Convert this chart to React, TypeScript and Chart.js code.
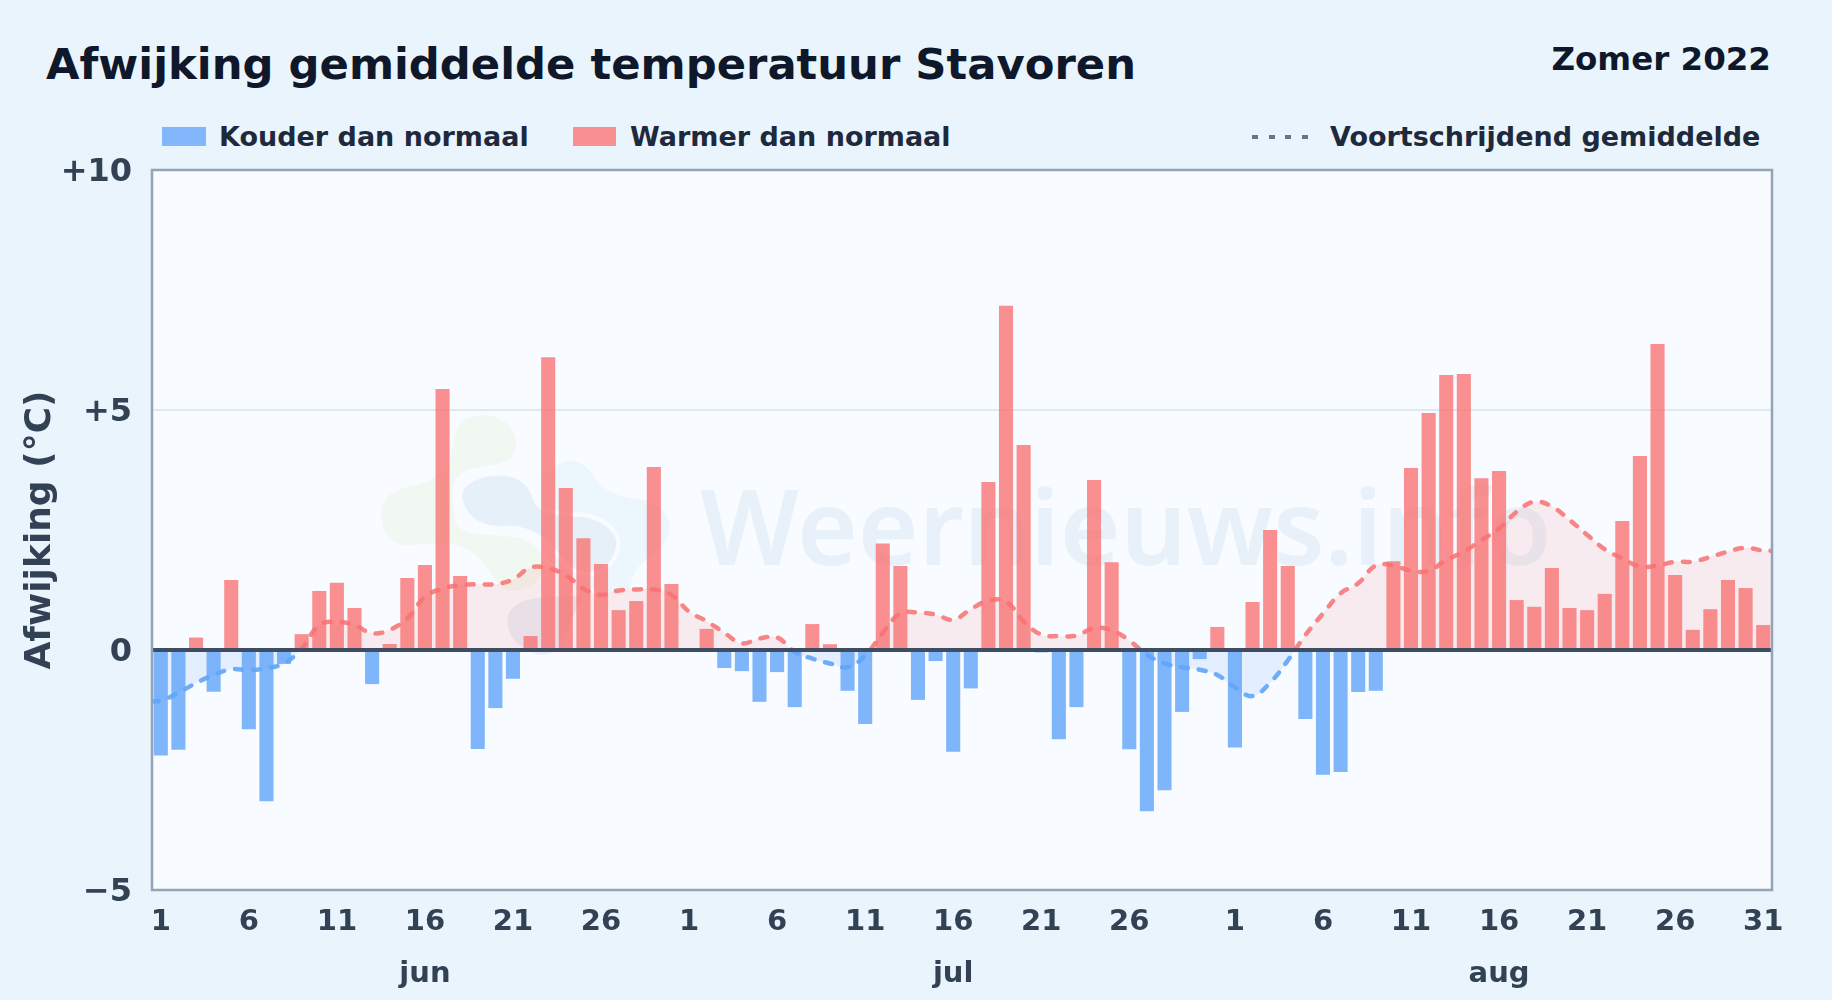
import React, { useEffect, useRef } from "react";
import { Chart, registerables } from "chart.js";

Chart.register(...registerables);

const months = ["jun", "jul", "aug"];
const monthLengths = [30, 31, 31];
const hiddenDayLabels = ["jul-31", "jun-31"];

const deviations = [
  -2.2, -2.08, 0.26, -0.87, 1.46, -1.65, -3.15, -0.29, 0.33, 1.23, 1.4, 0.875, -0.71, 0.125, 1.5,
  1.77, 5.44, 1.54, -2.06, -1.21, -0.6, 0.29, 6.1, 3.375, 2.33, 1.79, 0.83, 1.02, 3.81, 1.375,
  0, 0.44, -0.375, -0.44, -1.08, -0.46, -1.19, 0.54, 0.12, -0.85, -1.54, 2.22, 1.75, -1.04, -0.23,
  -2.12, -0.8, 3.5, 7.17, 4.27, -0.05, -1.86, -1.19, 3.54, 1.83, -2.07, -3.36, -2.92, -1.29, -0.19, 0.48,
  -2.03, 1.0, 2.5, 1.75, -1.44, -2.6, -2.54, -0.875, -0.85, 1.85, 3.79, 4.94, 5.73, 5.75, 3.58,
  3.73, 1.04, 0.9, 1.71, 0.875, 0.83, 1.17, 2.69, 4.04, 6.375, 1.56, 0.42, 0.85, 1.46, 1.29, 0.52,
];

const runningAverage = [
  -1.06, -0.89, -0.69, -0.52, -0.4, -0.42, -0.38, -0.28, 0.03, 0.52, 0.59, 0.52, 0.35, 0.42, 0.66,
  1.11, 1.28, 1.35, 1.37, 1.37, 1.47, 1.72, 1.7, 1.56, 1.28, 1.15, 1.24, 1.26, 1.26, 1.15,
  0.8, 0.6, 0.36, 0.14, 0.24, 0.26, -0.04, -0.18, -0.28, -0.36, -0.12, 0.36, 0.76, 0.78, 0.74,
  0.63, 0.85, 1.03, 1.01, 0.6, 0.32, 0.29, 0.3, 0.46, 0.41, 0.2, -0.1, -0.28, -0.36, -0.41, -0.52,
  -0.78, -0.96, -0.68, -0.22, 0.31, 0.76, 1.18, 1.39, 1.76, 1.76, 1.65, 1.65, 1.875, 2.05, 2.29,
  2.53, 2.88, 3.09, 2.99, 2.71, 2.4, 2.1, 1.91, 1.74, 1.76, 1.84, 1.84, 1.94, 2.05, 2.13, 2.07,
];
const runningAverageStart = -1.07;
const runningAverageEnd = 2.07;

const yTickValues = [-5, 0, 5, 10];
const yTickLabels = ["\u22125", "0", "+5", "+10"];

const legendCold = "Kouder dan normaal";
const legendWarm = "Warmer dan normaal";
const legendAvg = "Voortschrijdend gemiddelde";
const titleText = "Afwijking gemiddelde temperatuur Stavoren";
const subtitleText = "Zomer 2022";
const yAxisTitle = "Afwijking (\u00b0C)";
const watermarkText = "Weernieuws.info";

const FONT = '"DejaVu Sans", sans-serif';
const PAGE_BG = "#e9f4fd";
const PLOT_BG = "#f8fbff";

type Pt = [number, number];
const blobGreen: Pt[] = [[300,60],[380,40],[450,70],[475,130],[450,185],[370,200],[300,215],[275,260],[280,340],[300,400],[420,405],[520,420],[560,500],[520,560],[440,580],[400,530],[360,470],[290,430],[200,430],[120,440],[70,400],[60,320],[100,270],[200,250],[270,200],[280,120]];
const blobSky: Pt[] = [[530,230],[620,175],[680,195],[720,260],[790,295],[870,300],[920,340],[935,390],[900,450],[830,500],[815,540],[800,590],[690,570],[560,500],[560,350]];
const blobSteel: Pt[] = [[310,260],[380,225],[470,230],[510,270],[530,330],[600,350],[690,350],[750,385],[775,430],[750,490],[700,520],[640,510],[590,450],[540,400],[470,375],[390,380],[330,350],[305,300]];
const blobSlate: Pt[] = [[440,640],[480,605],[540,590],[620,590],[680,585],[640,640],[600,750],[540,770],[480,740],[445,700]];

function blobPath(ctx: CanvasRenderingContext2D, pts: Pt[]) {
  const map = (p: Pt): Pt => [360 + p[0] / 3, 400 + p[1] / 3];
  const mid = (a: Pt, b: Pt): Pt => [(a[0] + b[0]) / 2, (a[1] + b[1]) / 2];
  const m = pts.map(map);
  ctx.beginPath();
  const s = mid(m[m.length - 1], m[0]);
  ctx.moveTo(s[0], s[1]);
  m.forEach((p, i) => {
    const e = mid(p, m[(i + 1) % m.length]);
    ctx.quadraticCurveTo(p[0], p[1], e[0], e[1]);
  });
  ctx.closePath();
}

const framePlugin = {
  id: "frame",
  beforeDraw(chart: any) {
    const { ctx, chartArea: a } = chart;
    ctx.save();
    ctx.fillStyle = PLOT_BG;
    ctx.fillRect(a.left, a.top, a.right - a.left, a.bottom - a.top);
    ctx.fillStyle = "#f1f8f1";
    blobPath(ctx, blobGreen);
    ctx.fill();
    ctx.fillStyle = "#ebf6fd";
    blobPath(ctx, blobSky);
    ctx.fill();
    ctx.fillStyle = "#e6f0f9";
    ctx.strokeStyle = PLOT_BG;
    ctx.lineWidth = 9;
    blobPath(ctx, blobSteel);
    ctx.stroke();
    ctx.fill();
    ctx.fillStyle = "#e8eef7";
    blobPath(ctx, blobSlate);
    ctx.fill();
    ctx.fillStyle = "#e8f1f9";
    ctx.font = '600 104px "Noto Sans", sans-serif';
    ctx.textBaseline = "alphabetic";
    ctx.textAlign = "left";
    ctx.fillText(watermarkText, 700, 565);
    ctx.restore();
  },
  afterDatasetsDraw(chart: any) {
    const { ctx, chartArea: a, scales } = chart;
    const y0 = scales.y.getPixelForValue(0);
    ctx.save();
    ctx.strokeStyle = "#3f4c62";
    ctx.lineWidth = 4;
    ctx.beginPath();
    ctx.moveTo(a.left, y0);
    ctx.lineTo(a.right, y0);
    ctx.stroke();
    ctx.strokeStyle = "#94a3b8";
    ctx.lineWidth = 2.5;
    ctx.strokeRect(a.left, a.top, a.right - a.left, a.bottom - a.top);
    ctx.restore();
  },
};

const labelsFull: string[] = [];
const monthOfIndex: string[] = [];
months.forEach((m, mi) => {
  for (let d = 1; d <= monthLengths[mi]; d++) {
    labelsFull.push(String(d));
    monthOfIndex.push(m);
  }
});

const lineData = [
  { x: -0.5, y: runningAverageStart },
  ...runningAverage.map((y, i) => ({ x: i, y })),
  { x: deviations.length - 0.5, y: runningAverageEnd },
];

function splitLineColor(context: any) {
  const { chart } = context;
  const { ctx, chartArea, scales } = chart;
  const warm = "rgba(248,113,113,0.85)";
  const cold = "rgba(96,165,250,0.9)";
  if (!chartArea) return warm;
  const g = ctx.createLinearGradient(0, chartArea.top, 0, chartArea.bottom);
  const stop = (scales.y.getPixelForValue(0) - chartArea.top) / (chartArea.bottom - chartArea.top);
  g.addColorStop(0, warm);
  g.addColorStop(stop, warm);
  g.addColorStop(stop, cold);
  g.addColorStop(1, cold);
  return g;
}

export default function App() {
  const ref = useRef<HTMLCanvasElement | null>(null);
  useEffect(() => {
    document.body.style.margin = "0";
    const chart = new Chart(ref.current as HTMLCanvasElement, {
      type: "bar",
      data: {
        labels: labelsFull,
        datasets: [
          {
            type: "line",
            label: legendAvg,
            data: lineData as any,
            xAxisID: "xLine",
            yAxisID: "y",
            order: 0,
            borderColor: splitLineColor as any,
            borderWidth: 4.5,
            borderDash: [7, 11],
            borderCapStyle: "round",
            tension: 0.4,
            pointRadius: 0,
            fill: { target: { value: 0 }, above: "rgba(248,113,113,0.11)", below: "rgba(96,165,250,0.14)" },
          } as any,
          {
            type: "bar",
            label: legendWarm + " / " + legendCold,
            data: deviations,
            xAxisID: "x",
            yAxisID: "y",
            order: 1,
            grouped: false,
            backgroundColor: deviations.map((v) => (v < 0 ? "rgba(96,165,250,0.8)" : "rgba(248,113,113,0.78)")),
            barPercentage: 0.8,
            categoryPercentage: 1,
          } as any,
        ],
      },
      options: {
        animation: false,
        responsive: false,
        devicePixelRatio: 1,
        layout: { padding: { left: 0, top: 170, right: 60, bottom: 0 } },
        plugins: { legend: { display: false }, title: { display: false }, tooltip: { enabled: false } },
        scales: {
          x: {
            type: "category",
            offset: true,
            grid: { display: false, drawTicks: false },
            border: { display: false },
            afterFit: (s: any) => { s.height = 110; },
            ticks: {
              autoSkip: false,
              maxRotation: 0,
              minRotation: 0,
              padding: 6,
              color: "#334155",
              font: { family: FONT, weight: "bold", size: 29, lineHeight: 1.8 },
              callback(_v: any, i: number) {
                const lab = labelsFull[i];
                if (hiddenDayLabels.includes(monthOfIndex[i] + "-" + lab)) return "";
                if ((Number(lab) - 1) % 5 !== 0) return "";
                return lab === "16" ? [lab, monthOfIndex[i]] : lab;
              },
            },
          },
          xLine: {
            type: "linear",
            display: false,
            offset: false,
            grid: { display: false, offset: false },
            min: -0.5,
            max: deviations.length - 0.5,
          },
          y: {
            min: -5,
            max: 10,
            afterFit: (s: any) => { s.width = 152; },
            afterBuildTicks: (s: any) => { s.ticks = yTickValues.map((value) => ({ value })); },
            border: { display: false },
            grid: {
              drawTicks: false,
              lineWidth: 2,
              color: (c: any) => (c.tick && c.tick.value === 5 ? "#e2e8f0" : "rgba(0,0,0,0)"),
            },
            title: {
              display: true,
              text: yAxisTitle,
              color: "#334155",
              font: { family: FONT, weight: "bold", size: 36 },
              padding: { top: 19, bottom: 0 },
            },
            ticks: {
              padding: 20,
              labelOffset: 3,
              color: "#334155",
              font: { family: FONT, weight: "bold", size: 32 },
              callback: (v: any) => yTickLabels[yTickValues.indexOf(Number(v))] ?? "",
            },
          },
        },
      } as any,
      plugins: [framePlugin as any],
    });
    return () => chart.destroy();
  }, []);

  const text = (extra: React.CSSProperties): React.CSSProperties => ({
    position: "absolute",
    fontFamily: FONT,
    fontWeight: 700,
    whiteSpace: "nowrap",
    lineHeight: 1,
    ...extra,
  });
  const swatch = (left: number, width: number, color: string): React.CSSProperties => ({
    position: "absolute", left, top: 127, width, height: 19, background: color,
  });

  return (
    <div style={{ position: "relative", width: 1832, height: 1000, overflow: "hidden", background: PAGE_BG }}>
      <div style={text({ left: 46, top: 43, fontSize: 43.3, color: "#0f172a" })}>{titleText}</div>
      <div style={text({ right: 61, top: 43, fontSize: 32.5, color: "#0f172a" })}>{subtitleText}</div>
      <span style={swatch(162, 44, "#82b7fb")} />
      <div style={text({ left: 219, top: 123, fontSize: 27, color: "#1e293b" })}>{legendCold}</div>
      <span style={swatch(573, 43, "#f89091")} />
      <div style={text({ left: 630, top: 123, fontSize: 27, color: "#1e293b" })}>{legendWarm}</div>
      <span style={{
        position: "absolute", left: 1252, top: 135, width: 56, height: 4,
        background: "repeating-linear-gradient(90deg, #64748b 0 6px, transparent 6px 16.6px)",
      }} />
      <div style={text({ left: 1330, top: 123, fontSize: 27, color: "#1e293b" })}>{legendAvg}</div>
      <canvas ref={ref} width={1832} height={1000} style={{ position: "absolute", left: 0, top: 0 }} />
    </div>
  );
}
